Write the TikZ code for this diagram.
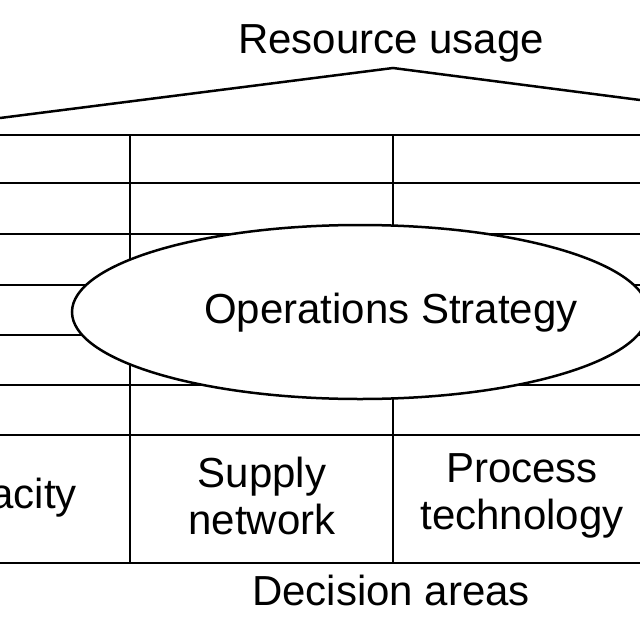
\documentclass[tikz,border=0pt]{standalone}
\usepackage{fontspec}
\setmainfont{Liberation Sans}
\usetikzlibrary{shapes.geometric}
\begin{document}
\begin{tikzpicture}[x=1pt,y=-1pt,line width=2.5pt,
  lbl/.style={font=\fontsize{42}{47}\selectfont,align=center,inner sep=0}]
\useasboundingbox (0,0) rectangle (640,640);
\foreach \y in {135,183,234,285,335,385,435,563} \draw (0,\y) -- (640,\y);
\draw (130,135) -- (130,563);
\draw (393,135) -- (393,563);
\coordinate (rl) at (0,118); \coordinate (rt) at (393,68); \coordinate (rr) at (640,100);
\draw (rl) -- (rt) -- (rr);
\node[ellipse,draw,fill=white,minimum width=576,minimum height=174,inner sep=0] (os) at (360,312) {};
\node[lbl] (ost) at (391,313) {Operations Strategy};
\node[lbl] (ru) at (391,43) {Resource usage};
\node[lbl] (da) at (391,590) {Decision areas};
\node[lbl,anchor=east] (cap) at (78,498) {acity};
\node[lbl] (sn) at (262,496) {Supply\\network};
\node[lbl] (pt) at (522,496) {Process\\technology};
\end{tikzpicture}
\end{document}
